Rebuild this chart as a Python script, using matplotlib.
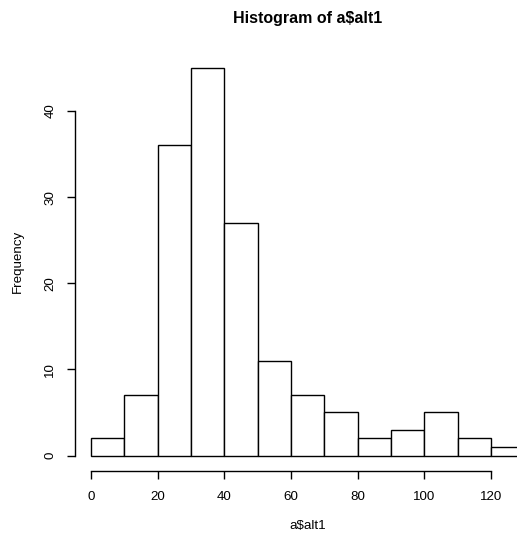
import matplotlib.pyplot as plt

# histogram counts
edges = [0, 10, 20, 30, 40, 50, 60, 70, 80, 90, 100, 110, 120, 130]
counts = [2, 7, 36, 45, 27, 11, 7, 5, 2, 3, 5, 2, 1]
xticks = [0, 20, 40, 60, 80, 100, 120]
yticks = [0, 10, 20, 30, 40]

plt.rcParams['font.family'] = ['Liberation Sans', 'DejaVu Sans']

fig = plt.figure(figsize=(5.17, 5.38), dpi=100)
W, H = 517, 538
# plot region like R: runs off the right side of the image
left, right, bot, top = 75, 541.7, 471, 52.5
ax = fig.add_axes([left / W, (H - bot) / H, (right - left) / W, (bot - top) / H])

ax.bar(edges[:-1], counts, width=10, align='edge',
       facecolor='white', edgecolor='black', linewidth=1.0)

ax.set_xlim(-4.8, 135.2)
ax.set_ylim(-1.8, 46.8)

ax.spines['top'].set_visible(False)
ax.spines['right'].set_visible(False)
ax.spines['left'].set_bounds(0, 40)
ax.spines['bottom'].set_bounds(0, 120)
ax.spines['left'].set_linewidth(1.0)
ax.spines['bottom'].set_linewidth(1.0)

ax.set_xticks(xticks)
ax.set_yticks(yticks)
ax.tick_params(direction='out', length=6, width=1.0, labelsize=9.6)
ax.tick_params(axis='x', pad=8.5)
ax.tick_params(axis='y', pad=7.5)
ax.set_yticklabels([str(v) for v in yticks], rotation=90, va='center')

cx = 307.5
cy = (bot + top) / 2
fig.text(cx / W, 1 - 18 / H, 'Histogram of a$alt1', ha='center', va='center',
         fontsize=11.5, fontweight='bold')
fig.text(cx / W, 1 - 526 / H, 'a$alt1', ha='center', va='center', fontsize=9.6)
fig.text(18 / W, 1 - cy / H, 'Frequency', ha='center', va='center',
         fontsize=9.6, rotation=90)

fig.savefig('out.png', dpi=100)
